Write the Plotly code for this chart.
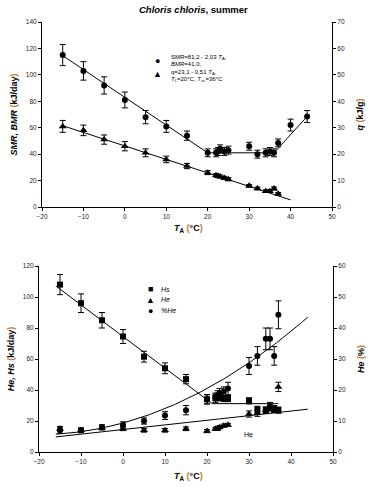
import plotly.graph_objects as go

# ---------------- data: top panel ----------------
t_smr = [-15, -10, -5, 0, 5, 10, 15, 20, 22, 22.5, 23, 24, 25, 30, 32, 34, 35, 36, 37, 40, 44]
smr = [115, 103, 92, 81, 68, 61, 54, 41, 41, 42, 44, 42, 43, 46, 40, 41, 42, 41, 48.5, 62, 68.5]
smr_err = [8, 7, 6.5, 6, 5, 4.5, 3.5, 3, 3, 3, 3, 3, 3, 3, 3, 3, 3, 3, 3, 4.5, 4.5]

t_q = [-15, -10, -5, 0, 5, 10, 15, 20, 22, 22.5, 23, 24, 25, 30, 32, 34, 35, 36, 37]
q = [30.5, 29, 25.5, 23, 20.5, 18, 15.5, 13, 12, 11.75, 11.5, 11, 10.5, 8, 7, 6, 6, 7, 5]
q_err = [2.25, 2, 1.75, 1.75, 1.5, 1.25, 1, 0.75, 0.6, 0.6, 0.6, 0.6, 0.6, 0.5, 0.5, 0.5, 0.5, 0.6, 0.5]

# fit parameters (top)
smr_a, smr_b = 83.0, -2.1
bmr = 41.0
t_l, t_uc, t_end = 20, 36, 44
upper_end = 68.5
q_a, q_b = 23.1, -0.51
q_t0, q_t1 = -15, 40

# ---------------- data: bottom panel ----------------
t_b = [-15, -10, -5, 0, 5, 10, 15, 20, 22, 22.5, 23, 24, 25, 30, 32, 34, 35, 36, 37]
hs = [108, 96, 85, 74.5, 61.5, 54, 47, 34, 35, 36, 35, 34.5, 34.5, 33, 27.5, 27, 28.5, 27.5, 27]
hs_err = [6.5, 6, 5, 4.5, 3.5, 3.5, 3, 3, 2, 2, 2, 2, 2, 2, 2, 2, 2, 2, 2]
he = [15, 14, 15.5, 15, 14, 14, 15, 13.5, 15, 15, 16, 17, 17.5, 24.5, 25, 27, 30, 28, 42]
he_err = [1.5, 1.2, 1.2, 1.2, 1.2, 1.2, 1.2, 1, 1, 1, 1, 1, 1, 2, 2, 2, 2, 2, 3]
pct_he = [7, 7, 8, 8.75, 10, 11.75, 13.5, 17, 17.5, 18.25, 19, 19.5, 20.5, 27.75, 31, 36.5, 36.5, 31, 44.25]
pct_err = [1, 0.8, 0.8, 1, 1, 1.25, 1.5, 1.5, 1.5, 1.5, 1.5, 1.5, 2, 2.75, 3, 3.5, 3.5, 3, 4.5]

# fit parameters (bottom)
hs_a, hs_b, hs_plateau = 74.5, -2.04, 31.2
he_a, he_b = 14.5, 0.298
pct_c0, pct_c1, pct_c2 = 9.35, 0.372, 0.00919
fit_t0, fit_t1, hs_t1 = -16, 44, 37

x_ticks = [-20, -10, 0, 10, 20, 30, 40, 50]

# ---------------- layout helpers ----------------
W, H = 370, 487
ML, MR, MT, MB = 39, 37, 22, 35
PW, PH = W - ML - MR, H - MT - MB


def px(x):
    return (x - ML) / PW


def py(y):
    return (H - MB - y) / PH


FONT = "Liberation Sans, Arial, sans-serif"
ORANGE = "#c8782a"
BLK = "#000000"

fig = go.Figure()

err_style = dict(type="data", thickness=1, width=3, color=BLK)

# ---- top panel ----
t_fit1 = [t_smr[0], t_l]
fig.add_trace(go.Scatter(x=t_fit1, y=[smr_a + smr_b * t for t in t_fit1], mode="lines",
                         line=dict(color=BLK, width=1), xaxis="x", yaxis="y", showlegend=False))
fig.add_trace(go.Scatter(x=[t_l, t_uc, t_end], y=[bmr, bmr, upper_end], mode="lines",
                         line=dict(color=BLK, width=1), xaxis="x", yaxis="y", showlegend=False))
fig.add_trace(go.Scatter(x=[q_t0, q_t1], y=[q_a + q_b * q_t0, q_a + q_b * q_t1], mode="lines",
                         line=dict(color=BLK, width=1), xaxis="x", yaxis="y2", showlegend=False))
fig.add_trace(go.Scatter(x=t_smr, y=smr, mode="markers",
                         marker=dict(symbol="circle", size=6, color=BLK),
                         error_y=dict(array=smr_err, **err_style),
                         xaxis="x", yaxis="y", showlegend=False))
fig.add_trace(go.Scatter(x=t_q, y=q, mode="markers",
                         marker=dict(symbol="triangle-up", size=7, color=BLK),
                         error_y=dict(array=q_err, **err_style),
                         xaxis="x", yaxis="y2", showlegend=False))

# ---- bottom panel ----
t_cross = (hs_a - hs_plateau) / -hs_b
fig.add_trace(go.Scatter(x=[fit_t0, t_cross, hs_t1],
                         y=[hs_a + hs_b * fit_t0, hs_plateau, hs_plateau], mode="lines",
                         line=dict(color=BLK, width=1), xaxis="x2", yaxis="y3", showlegend=False))
fig.add_trace(go.Scatter(x=[fit_t0, fit_t1], y=[he_a + he_b * fit_t0, he_a + he_b * fit_t1],
                         mode="lines", line=dict(color=BLK, width=1),
                         xaxis="x2", yaxis="y3", showlegend=False))
curve_t = [fit_t0 + i * (fit_t1 - fit_t0) / 120 for i in range(121)]
fig.add_trace(go.Scatter(x=curve_t, y=[pct_c0 + pct_c1 * t + pct_c2 * t * t for t in curve_t],
                         mode="lines", line=dict(color=BLK, width=1),
                         xaxis="x2", yaxis="y4", showlegend=False))
fig.add_trace(go.Scatter(x=t_b, y=pct_he, mode="markers",
                         marker=dict(symbol="circle", size=6, color=BLK),
                         error_y=dict(array=pct_err, **err_style),
                         xaxis="x2", yaxis="y4", showlegend=False))
fig.add_trace(go.Scatter(x=t_b, y=he, mode="markers",
                         marker=dict(symbol="triangle-up", size=7, color=BLK),
                         error_y=dict(array=he_err, **err_style),
                         xaxis="x2", yaxis="y3", showlegend=False))
fig.add_trace(go.Scatter(x=t_b, y=hs, mode="markers",
                         marker=dict(symbol="square", size=6, color=BLK),
                         error_y=dict(array=hs_err, **err_style),
                         xaxis="x2", yaxis="y3", showlegend=False))

tickfont = dict(family=FONT, size=6.5, color="#222222")
axis_common = dict(showline=True, linecolor=BLK, linewidth=1, ticks="outside", ticklen=3,
                   tickcolor=BLK, tickwidth=1, showgrid=False, zeroline=False,
                   tickfont=tickfont, fixedrange=True, automargin=False)

P = "<span style='color:%s'>(</span>" % ORANGE
Q = "<span style='color:%s'>)</span>" % ORANGE
title_font = dict(family=FONT, size=9, color=BLK)


def ytitle(text, standoff):
    return dict(text=text, font=title_font, standoff=standoff)


fig.update_layout(
    template="none",
    font=dict(family=FONT, color=BLK),
    width=W, height=H,
    margin=dict(l=ML, r=MR, t=MT, b=MB, pad=0),
    paper_bgcolor="white", plot_bgcolor="white",
    showlegend=False,
    hovermode=False,
    xaxis=dict(domain=[px(42), px(332)], anchor="y", range=[-20, 50], tickvals=x_ticks, **axis_common),
    yaxis=dict(domain=[py(207), py(22)], anchor="x", range=[0, 140], dtick=20,
               title=ytitle("<b><i>SMR, BMR</i> " + P + "kJ/day" + Q + "</b>", 6), **axis_common),
    yaxis2=dict(overlaying="y", side="right", anchor="x", range=[0, 70], dtick=10,
                title=ytitle("<b><i>q</i> " + P + "kJ/g" + Q + "</b>", 12), **axis_common),
    xaxis2=dict(domain=[0, 1], anchor="y3", range=[-20, 50], tickvals=x_ticks, **axis_common),
    yaxis3=dict(domain=[0, py(266)], anchor="x2", range=[0, 120], dtick=20,
                title=ytitle("<b><i>He, Hs</i> " + P + "kJ/day" + Q + "</b>", 6), **axis_common),
    yaxis4=dict(overlaying="y3", side="right", anchor="x2", range=[0, 60], dtick=10,
                title=ytitle("<b><i>He</i> " + P + "%" + Q + "</b>", 12), **axis_common),
)

ann = []


def add_text(text, x, y, size, xanchor="center", yanchor="middle"):
    ann.append(dict(text=text, x=px(x), y=py(y), xref="paper", yref="paper", showarrow=False,
                    xanchor=xanchor, yanchor=yanchor,
                    font=dict(family=FONT, size=size, color=BLK)))


# title
add_text("<b><i>Chloris chloris</i>, summer</b>", 193, 9, 9.5)
# x axis titles
add_text("<b><i>T</i><sub>A</sub> " + P + "°C" + Q + "</b>", 188, 229, 9)
add_text("<b><i>T</i><sub>A</sub> " + P + "°C" + Q + "</b>", 188, 476, 9)

# top legend
add_text("●", 157, 60.7, 9)
add_text("▲", 157, 74.3, 9)
add_text("SMR=81,2 - 2,03 <i>T</i><sub>A</sub>,", 169, 57.3, 6, xanchor="left")
add_text("<i>BMR</i>=41,0,", 169, 64.3, 6, xanchor="left")
add_text("q=23,1 - 0,51 <i>T</i><sub>A</sub>,", 169, 72, 6, xanchor="left")
add_text("<i>T</i><sub>L</sub>=20°C, <i>T</i><sub>uc</sub>=36°C", 169, 79, 6, xanchor="left")

# bottom legend
add_text("■", 150, 289.3, 9)
add_text("▲", 150, 299.5, 9)
add_text("●", 150, 310.7, 9)
add_text("<i>Hs</i>", 159, 289.3, 7, xanchor="left")
add_text("<i>He</i>", 159, 299.5, 7, xanchor="left")
add_text("<i>%He</i>", 159, 310.7, 7, xanchor="left")

# He line label
add_text("He", 248, 434, 7)

fig.update_layout(annotations=ann)
fig.write_html("out.html", config={"displayModeBar": False, "staticPlot": True},
               post_script="document.body.style.margin='0';document.body.style.padding='0';")
